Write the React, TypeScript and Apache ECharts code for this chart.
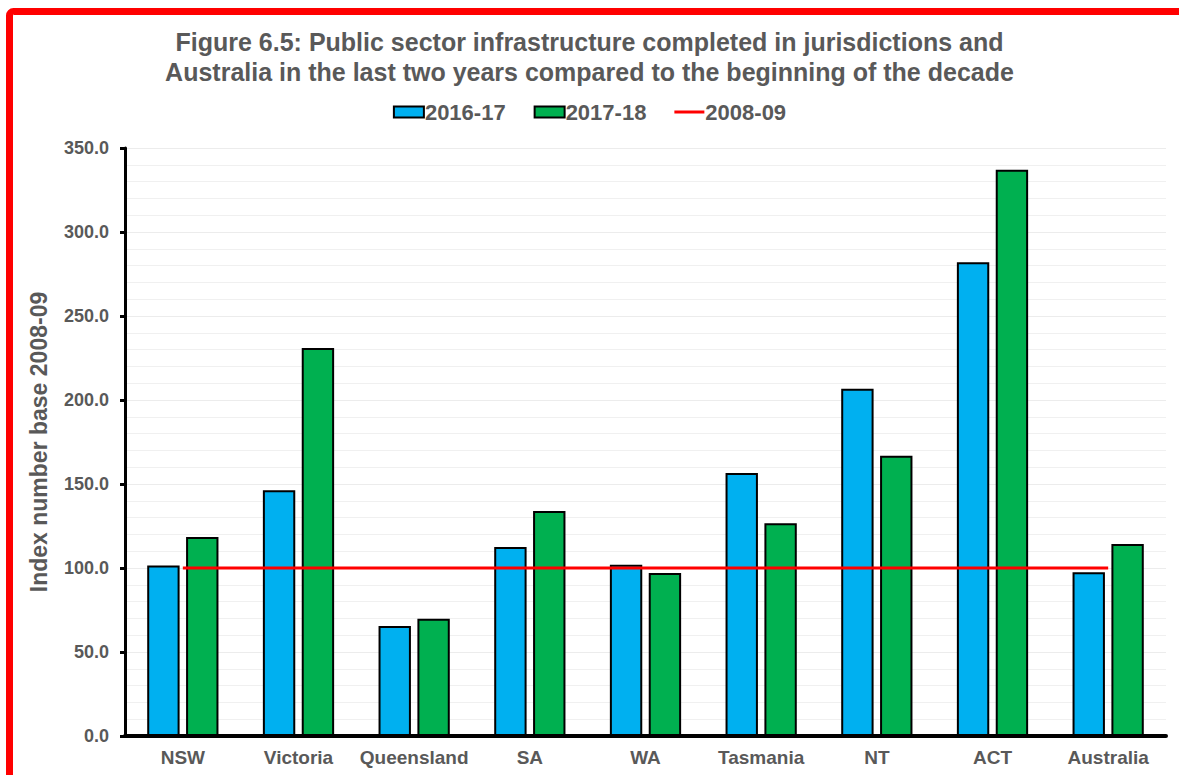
import React, { useEffect, useRef } from "react";
import * as echarts from "echarts";

const categories = ["NSW", "Victoria", "Queensland", "SA", "WA", "Tasmania", "NT", "ACT", "Australia"];
const values2016 = [101.5, 146.3, 65.5, 112.5, 102.0, 156.5, 206.7, 282.0, 97.5];
const values2017 = [118.5, 231.0, 69.8, 134.0, 97.0, 126.7, 166.8, 337.0, 114.3];
const values2008 = [100, 100, 100, 100, 100, 100, 100, 100, 100];
const seriesNames = ["2016-17", "2017-18", "2008-09"];
const titleText = "Figure 6.5: Public sector infrastructure completed in jurisdictions and\nAustralia in the last two years compared to the beginning of the decade";
const yAxisName = "Index number base 2008-09";

export default function App() {
  const ref = useRef<HTMLDivElement>(null);
  useEffect(() => {
    const chart = echarts.init(ref.current!, null, { renderer: "svg" });
    const grey = "#595959";
    const font = "Liberation Sans, Arial, sans-serif";
    chart.setOption({
      animation: false,
      backgroundColor: "#ffffff",
      textStyle: { fontFamily: font },
      title: {
        text: titleText,
        left: "center",
        top: 22,
        textStyle: { fontSize: 25, fontWeight: "bold", color: grey, lineHeight: 30, fontFamily: font },
      },
      legend: {
        top: 96,
        left: "center",
        itemWidth: 30,
        itemHeight: 11,
        itemGap: 28,
        textStyle: { fontSize: 22, fontWeight: "bold", color: grey, fontFamily: font, padding: [0, 0, 0, -4] },
        data: [
          { name: seriesNames[0], icon: "rect" },
          { name: seriesNames[1], icon: "rect" },
          {
            name: seriesNames[2],
            icon: "path://M0 0H30V3H0Z",
            itemStyle: { color: "#ff0000", borderWidth: 0 },
          },
        ],
      },
      grid: { left: 125, right: 13, top: 148, bottom: 39, containLabel: false },
      xAxis: {
        type: "category",
        data: categories,
        axisLine: { lineStyle: { color: "#000", width: 4 } },
        axisTick: { show: false },
        axisLabel: { interval: 0, fontSize: 19, fontWeight: "bold", color: grey, margin: 12, fontFamily: font },
      },
      yAxis: {
        type: "value",
        min: 0,
        max: 350,
        interval: 50,
        name: yAxisName,
        nameLocation: "middle",
        nameGap: 75,
        nameTextStyle: { fontSize: 23, fontWeight: "bold", color: grey, fontFamily: font },
        axisLine: { show: true, lineStyle: { color: "#000", width: 3 } },
        axisTick: { show: true, length: 5, lineStyle: { color: "#000", width: 3 } },
        axisLabel: {
          fontSize: 18,
          fontWeight: "bold",
          color: grey,
          margin: 16,
          fontFamily: font,
          formatter: (v: number) => v.toFixed(1),
        },
        splitLine: { show: true, lineStyle: { color: "#ececec", width: 1 } },
        minorTick: { show: false, splitNumber: 5 },
        minorSplitLine: { show: true, lineStyle: { color: "#f0f0f0", width: 1 } },
      },
      graphic: [
        {
          type: "rect",
          shape: { x: 9.5, y: 11.5, width: 1250, height: 850, r: 4 },
          style: { fill: "none", stroke: "#ff0000", lineWidth: 7 },
          z: 100,
          silent: true,
        },
      ],
      series: [
        {
          name: seriesNames[0],
          type: "bar",
          data: values2016,
          barWidth: "28%",
          barGap: "20%",
          itemStyle: { color: "#00b0f0", borderColor: "#000", borderWidth: 2 },
        },
        {
          name: seriesNames[1],
          type: "bar",
          data: values2017,
          barWidth: "28%",
          barGap: "20%",
          itemStyle: { color: "#00b050", borderColor: "#000", borderWidth: 2 },
        },
        {
          name: seriesNames[2],
          type: "line",
          data: values2008,
          symbol: "none",
          z: 5,
          lineStyle: { color: "#ff0000", width: 3 },
          itemStyle: { color: "#ff0000" },
        },
      ],
    });
    return () => chart.dispose();
  }, []);
  return <div ref={ref} style={{ position: "fixed", left: 0, top: 0, width: 1179, height: 775 }} />;
}
